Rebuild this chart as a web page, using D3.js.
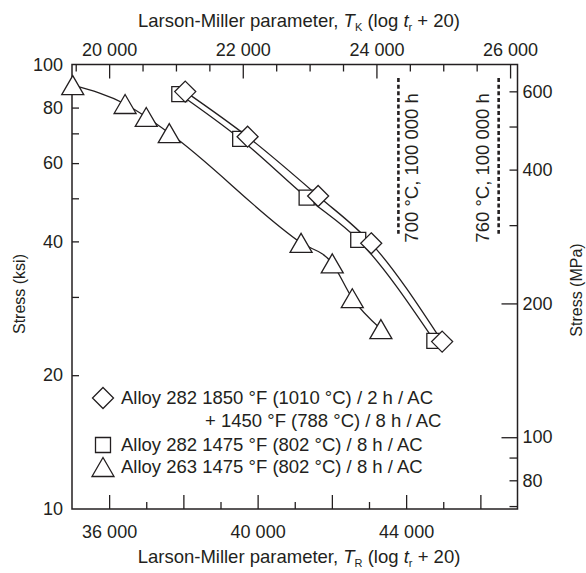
<!DOCTYPE html>
<html>
<head>
<meta charset="utf-8">
<script src="https://cdn.jsdelivr.net/npm/d3@7"></script>
<style>
  body { margin: 0; background: #fff; }
  svg text { font-family: "Liberation Sans", Arial, sans-serif; fill: #231f20; }
</style>
</head>
<body>
<svg width="586" height="573"></svg>
<script>
// Larson-Miller parameter (Rankine) and stress (ksi)
var alloy282DiamondTR = [38050, 39730, 41630, 43060, 44970];
var alloy282DiamondKsi = [86.9, 68.8, 50.6, 39.6, 23.8];
var alloy282SquareTR = [37890, 39530, 41320, 42710, 44760];
var alloy282SquareKsi = [85.8, 68.0, 50.2, 40.3, 23.9];
var alloy263TR = [35020, 36430, 37000, 37620, 41170, 42010, 42550, 43320];
var alloy263Ksi = [89.9, 81.5, 76.2, 70.1, 39.7, 35.7, 29.8, 25.4];

// reference lines (Kelvin parameter) : T(K) * (log 100000 + 20)
var refLabels = ["700 °C, 100 000 h", "760 °C, 100 000 h"];
var refTK = [24329, 25829];
var refKsiTop = [93.2, 93.2];
var refKsiBottom = [41.6, 41.6];
var refLabelSide = [1, -1];

var legendLabels = [
  ["Alloy 282 1850 °F (1010 °C) / 2 h / AC", "+ 1450 °F (788 °C) / 8 h / AC"],
  ["Alloy 282 1475 °F (802 °C) / 8 h / AC"],
  ["Alloy 263 1475 °F (802 °C) / 8 h / AC"]
];

var ksiTicksMinor = [20, 30, 40, 50, 60, 70, 80];
var ksiTickLabels = [10, 20, 40, 60, 80, 100];
var mpaTicksShort = [70, 80, 90, 300, 400, 500, 600];
var mpaTicksLong = [100, 200];
var mpaTickLabels = [80, 100, 200, 400, 600];
var trTicksMinor = [37000, 39000, 41000, 43000, 45000];
var trTicksMajor = [36000, 38000, 40000, 42000, 44000, 46000];
var trTickLabels = [36000, 40000, 44000];
var tkTicksMinor = [19500, 20500, 21000, 21500, 22500, 23000, 23500, 24500, 25000, 25500];
var tkTickLabels = [20000, 22000, 24000, 26000];

var KSI_TO_MPA = 6.89476;

var svg = d3.select("svg");
var pL = 72, pR = 517.5, pT = 64.5, pB = 509;
var ink = "#231f20";
var tickFont = 18, textFont = 18.5;

var x = d3.scaleLinear().domain([35000, 47000]).range([pL, pR]);
var xK = d3.scaleLinear().domain([35000 / 1.8, 47000 / 1.8]).range([pL, pR]);
var y = d3.scaleLog().domain([10, 100]).range([pB, pT]);
var yM = d3.scaleLog().domain([10 * KSI_TO_MPA, 100 * KSI_TO_MPA]).range([pB, pT]);

var spaced = function(d) { return d3.format(",")(d).replace(",", " "); };

function styleAxis(g) {
  g.select(".domain").remove();
  g.selectAll(".tick line").attr("stroke", ink).attr("stroke-width", 1.3);
  g.selectAll(".tick text").style("font-size", tickFont + "px").attr("fill", ink);
}

// bottom axis
svg.append("g").attr("transform", "translate(0," + pB + ")")
  .call(d3.axisBottom(x).tickValues(trTicksMinor).tickSize(-7).tickFormat(""))
  .call(styleAxis);
svg.append("g").attr("transform", "translate(0," + pB + ")")
  .call(d3.axisBottom(x).tickValues(trTicksMajor).tickSize(-14).tickFormat(""))
  .call(styleAxis);
svg.append("g").attr("transform", "translate(0," + pB + ")")
  .call(d3.axisBottom(x).tickValues(trTickLabels).tickSize(0).tickPadding(16).tickFormat(spaced))
  .call(styleAxis);

// top axis
svg.append("g").attr("transform", "translate(0," + pT + ")")
  .call(d3.axisTop(xK).tickValues(tkTicksMinor).tickSize(-7).tickFormat(""))
  .call(styleAxis);
svg.append("g").attr("transform", "translate(0," + pT + ")")
  .call(d3.axisTop(xK).tickValues(tkTickLabels).tickSize(-14).tickPadding(9).tickFormat(spaced))
  .call(styleAxis);

// left axis
svg.append("g").attr("transform", "translate(" + pL + ",0)")
  .call(d3.axisLeft(y).tickValues(ksiTicksMinor).tickSize(-7).tickFormat(""))
  .call(styleAxis);
svg.append("g").attr("transform", "translate(" + pL + ",0)")
  .call(d3.axisLeft(y).tickValues(ksiTickLabels).tickSize(0).tickPadding(9).tickFormat(d3.format("d")))
  .call(styleAxis);

// right axis
svg.append("g").attr("transform", "translate(" + pR + ",0)")
  .call(d3.axisRight(yM).tickValues(mpaTicksShort).tickSize(-8).tickFormat(""))
  .call(styleAxis);
svg.append("g").attr("transform", "translate(" + pR + ",0)")
  .call(d3.axisRight(yM).tickValues(mpaTicksLong).tickSize(-16).tickFormat(""))
  .call(styleAxis);
svg.append("g").attr("transform", "translate(" + pR + ",0)")
  .call(d3.axisRight(yM).tickValues(mpaTickLabels).tickSize(0).tickPadding(5).tickFormat(d3.format("d")))
  .call(styleAxis);

// frame
svg.append("rect")
  .attr("x", pL).attr("y", pT)
  .attr("width", pR - pL).attr("height", pB - pT)
  .attr("fill", "none").attr("stroke", ink).attr("stroke-width", 1.5);

// axis titles
function lmTitle(sel, sub) {
  sel.append("tspan").text("Larson-Miller parameter, ");
  sel.append("tspan").attr("font-style", "italic").text("T");
  sel.append("tspan").style("font-size", "11px").attr("dy", 4).text(sub);
  sel.append("tspan").attr("dy", -4).text(" (log ");
  sel.append("tspan").attr("font-style", "italic").text("t");
  sel.append("tspan").style("font-size", "11px").attr("dy", 4).text("r");
  sel.append("tspan").attr("dy", -4).text(" + 20)");
}
svg.append("text").attr("x", 299).attr("y", 27).attr("text-anchor", "middle")
  .style("font-size", textFont + "px").call(lmTitle, "K");
svg.append("text").attr("x", 299).attr("y", 563).attr("text-anchor", "middle")
  .style("font-size", textFont + "px").call(lmTitle, "R");
svg.append("text").attr("transform", "translate(25,294) rotate(-90)")
  .attr("text-anchor", "middle").style("font-size", "16px").text("Stress (ksi)");
svg.append("text").attr("transform", "translate(582,290) rotate(-90)")
  .attr("text-anchor", "middle").style("font-size", "16px").text("Stress (MPa)");

// reference lines
refTK.forEach(function(tk, i) {
  var xp = xK(tk);
  svg.append("line")
    .attr("x1", xp).attr("x2", xp)
    .attr("y1", y(refKsiTop[i])).attr("y2", y(refKsiBottom[i]))
    .attr("stroke", ink).attr("stroke-width", 2.6)
    .attr("stroke-dasharray", "4,2.6");
  var ym = (y(refKsiTop[i]) + y(refKsiBottom[i])) / 2 + 12;
  var xt = refLabelSide[i] > 0 ? xp + 20 : xp - 10;
  svg.append("text")
    .attr("transform", "translate(" + xt + "," + ym + ") rotate(-90)")
    .attr("text-anchor", "middle").style("font-size", textFont + "px")
    .text(refLabels[i]);
});

// curves
var series = [
  { tr: alloy263TR, ksi: alloy263Ksi, shape: "triangle" },
  { tr: alloy282SquareTR, ksi: alloy282SquareKsi, shape: "square" },
  { tr: alloy282DiamondTR, ksi: alloy282DiamondKsi, shape: "diamond" }
];

var line = d3.line()
  .x(function(d) { return x(d[0]); })
  .y(function(d) { return y(d[1]); })
  .curve(d3.curveMonotoneX);

series.forEach(function(s) {
  s.points = s.tr.map(function(t, i) { return [t, s.ksi[i]]; });
  svg.append("path").datum(s.points)
    .attr("d", line)
    .attr("fill", "none").attr("stroke", ink).attr("stroke-width", 1.3);
});

var shapes = {
  triangle: "M0,-9.5L11,9.5L-11,9.5Z",
  square: "M-7.5,-7.5H7.5V7.5H-7.5Z",
  diamond: "M0,-10.5L10.5,0L0,10.5L-10.5,0Z"
};

function drawMarker(g, shape, cx, cy) {
  g.append("path")
    .attr("d", shapes[shape])
    .attr("transform", "translate(" + cx + "," + cy + ")")
    .attr("fill", "#fff").attr("stroke", ink).attr("stroke-width", 1.3);
}

var marks = svg.append("g");
series.forEach(function(s) {
  s.points.forEach(function(p) {
    drawMarker(marks, s.shape, x(p[0]), y(p[1]));
  });
});

// legend
var legend = svg.append("g").style("font-size", textFont + "px");
drawMarker(legend, "diamond", 103, 398);
legend.append("text").attr("x", 121).attr("y", 404).text(legendLabels[0][0]);
legend.append("text").attr("x", 205).attr("y", 427).text(legendLabels[0][1]);
drawMarker(legend, "square", 103, 445);
legend.append("text").attr("x", 121).attr("y", 451).text(legendLabels[1][0]);
drawMarker(legend, "triangle", 103, 467);
legend.append("text").attr("x", 121).attr("y", 473).text(legendLabels[2][0]);
</script>
</body>
</html>
